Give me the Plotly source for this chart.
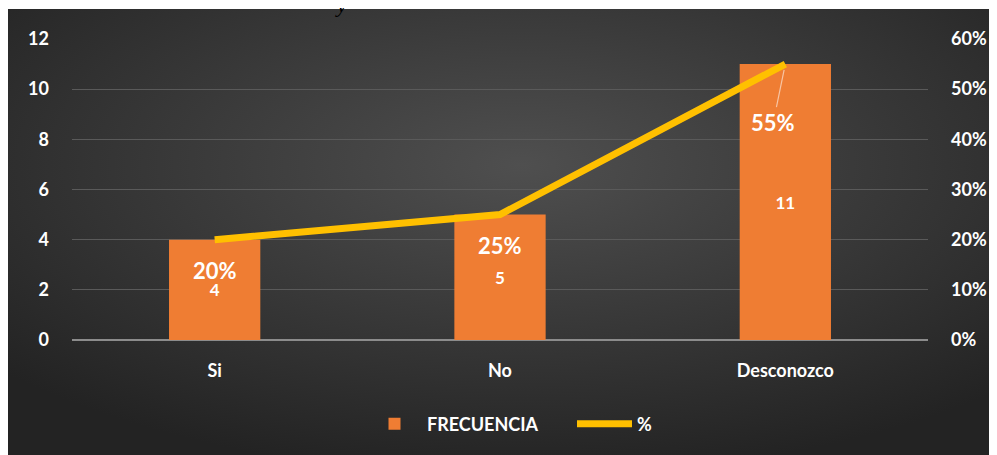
import base64
import plotly.graph_objects as go

categorias = ["Si", "No", "Desconozco"]
frecuencia = [4, 5, 11]
porcentaje = [0.20, 0.25, 0.55]
etiquetas_pct = ["20%", "25%", "55%"]

FONT = "Lato, Open Sans, DejaVu Sans, sans-serif"

# fondo oscuro con degradado radial (estilo Excel)
svg = ("<svg xmlns='http://www.w3.org/2000/svg' width='990' height='446' preserveAspectRatio='none'>"
       "<defs><radialGradient id='g' cx='52%' cy='35%' r='70%'>"
       "<stop offset='0' stop-color='#4f4f4f'/><stop offset='1' stop-color='#232323'/>"
       "</radialGradient></defs><rect width='990' height='446' fill='url(#g)'/></svg>")
bg = "data:image/svg+xml;base64," + base64.b64encode(svg.encode()).decode()

fig = go.Figure()
fig.add_trace(go.Bar(
    name="FRECUENCIA", x=categorias, y=frecuencia, width=0.32,
    marker=dict(color="#EF7D33", line=dict(width=0)),
    texttemplate="%{y}", textposition="inside", insidetextanchor="middle",
    textangle=0, textfont=dict(family=FONT, size=17, color="white", weight="bold"),
))
fig.add_trace(go.Scatter(
    name="%", x=categorias, y=porcentaje, yaxis="y2", mode="lines",
    line=dict(color="#FFC000", width=7),
))

for cat, val, txt in zip(categorias, porcentaje, etiquetas_pct):
    if val > 0.5:
        fig.add_annotation(x=cat, y=val, xref="x", yref="y2", text=txt,
                           showarrow=True, arrowhead=0, arrowwidth=1.2,
                           arrowcolor="rgba(255,255,255,0.55)", ax=-12, ay=58,
                           standoff=6,
                           font=dict(family=FONT, size=22, color="white", weight="bold"))
    else:
        fig.add_annotation(x=cat, y=val, xref="x", yref="y2", text=txt,
                           showarrow=False, yshift=-31,
                           font=dict(family=FONT, size=22, color="white", weight="bold"))

# texto recortado en la parte superior
fig.add_annotation(x=0.305, y=1.0, xref="paper", yref="paper", text="<i>y</i>",
                   showarrow=False, yanchor="bottom", yshift=20,
                   font=dict(family="Liberation Serif", size=22, color="black"))

# la página tiene 8 px de margen: figura más pequeña para que quepa entera
fig.update_layout(
    width=989, height=447,
    margin=dict(l=64, r=69, t=31, b=115, autoexpand=False),
    paper_bgcolor="white", plot_bgcolor="rgba(0,0,0,0)",
    font=dict(family=FONT, color="white", size=18),
    showlegend=True,
    images=[dict(source=bg, xref="paper", yref="paper",
                 x=(-1 - 64) / 856, y=(332 - 1) / 301,
                 sizex=990 / 856, sizey=446 / 301,
                 sizing="stretch", layer="below", xanchor="left", yanchor="top")],
    xaxis=dict(showgrid=False, zeroline=False, showline=False, ticks="",
               automargin=False,
               tickfont=dict(size=18, weight="bold"), ticklabelstandoff=18),
    yaxis=dict(range=[0, 12], dtick=2, showgrid=True, gridcolor="#5a5a5a",
               gridwidth=1, zeroline=True, zerolinecolor="#8c8c8c", zerolinewidth=2,
               automargin=False,
               ticks="", tickfont=dict(size=18, weight="bold"), ticklabelstandoff=22),
    yaxis2=dict(range=[0, 0.6], dtick=0.1, tickformat=".0%", overlaying="y",
                side="right", showgrid=False, zeroline=False, ticks="",
                automargin=False,
                tickfont=dict(size=18, weight="bold"), ticklabelstandoff=22),
    legend=dict(orientation="h", x=(354 - 64) / 856, xanchor="left",
                y=(332 - 416) / 301, yanchor="middle",
                font=dict(size=18, weight="bold", color="white"),
                bgcolor="rgba(0,0,0,0)", itemwidth=55, entrywidth=140),
)

fig.write_html("out.html")
